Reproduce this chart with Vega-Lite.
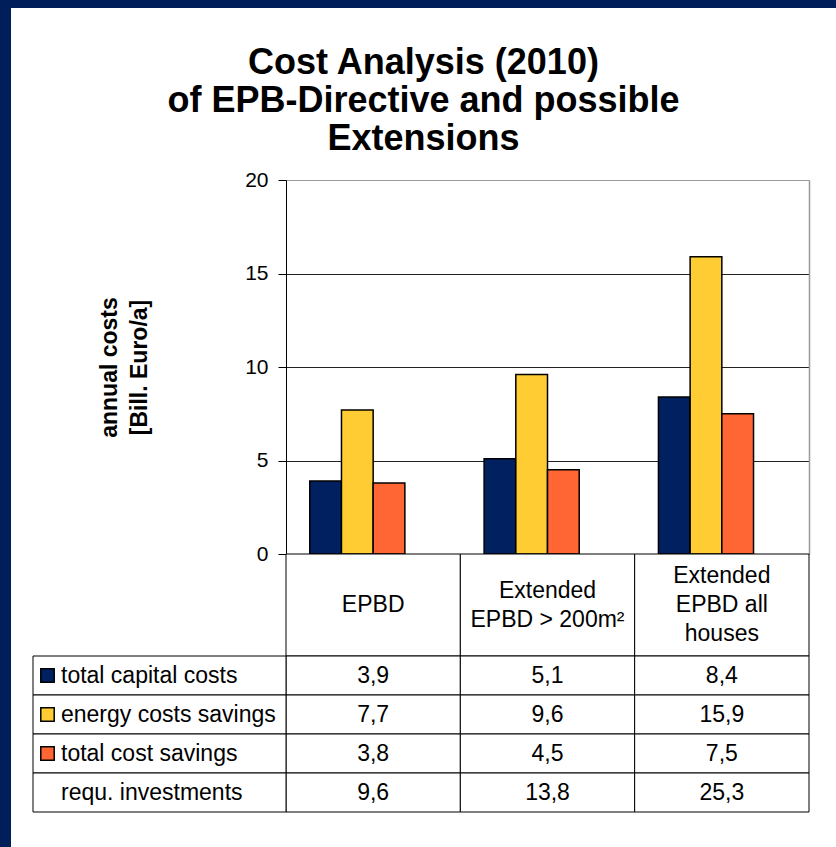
{
  "$schema": "https://vega.github.io/schema/vega-lite/v6.json",
  "width": 825,
  "height": 839,
  "autosize": {"type": "none"},
  "padding": {"left": 11, "top": 8, "right": 0, "bottom": 0},
  "background": "#001E5A",
  "view": {"fill": "white", "stroke": null},
  "config": {
    "locale": {"number": {"decimal": ",", "thousands": ".", "grouping": [3], "currency": ["", " €"]}},
    "font": "Liberation Sans"
  },
  "title": {
    "text": ["Cost Analysis (2010)", "of EPB-Directive and possible", "Extensions"],
    "font": "Liberation Sans",
    "fontSize": 36,
    "fontWeight": "bold",
    "lineHeight": 38,
    "color": "black",
    "frame": "group",
    "anchor": "middle",
    "orient": "top",
    "offset": -150,
    "dx": 0
  },
  "datasets": {
    "bars": [
      {"cat": "EPBD", "series": "total capital costs", "value": 3.9},
      {"cat": "EPBD", "series": "energy costs savings", "value": 7.7},
      {"cat": "EPBD", "series": "total cost savings", "value": 3.8},
      {"cat": "EPBD", "series": "requ. investments", "value": 9.6},
      {"cat": "Extended EPBD > 200m²", "series": "total capital costs", "value": 5.1},
      {"cat": "Extended EPBD > 200m²", "series": "energy costs savings", "value": 9.6},
      {"cat": "Extended EPBD > 200m²", "series": "total cost savings", "value": 4.5},
      {"cat": "Extended EPBD > 200m²", "series": "requ. investments", "value": 13.8},
      {"cat": "Extended EPBD all houses", "series": "total capital costs", "value": 8.4},
      {"cat": "Extended EPBD all houses", "series": "energy costs savings", "value": 15.9},
      {"cat": "Extended EPBD all houses", "series": "total cost savings", "value": 7.5},
      {"cat": "Extended EPBD all houses", "series": "requ. investments", "value": 25.3}
    ],
    "cats": [
      {"cat": "EPBD", "header": "EPBD"},
      {"cat": "Extended EPBD > 200m²", "header": "Extended\nEPBD > 200m²"},
      {"cat": "Extended EPBD all houses", "header": "Extended\nEPBD all\nhouses"}
    ]
  },
  "layer": [
    {
      "data": {"name": "bars"},
      "transform": [{"filter": "datum.series != 'requ. investments'"}],
      "mark": {"type": "bar", "stroke": "black", "strokeWidth": 1.5},
      "encoding": {
        "x": {
          "field": "cat", "type": "nominal", "sort": null,
          "scale": {"domain": ["EPBD", "Extended EPBD > 200m²", "Extended EPBD all houses"], "range": [275, 798], "paddingInner": 0, "paddingOuter": 0},
          "axis": null
        },
        "xOffset": {
          "field": "series", "type": "nominal",
          "scale": {"domain": ["total capital costs", "energy costs savings", "total cost savings", "requ. investments"], "paddingInner": 0, "paddingOuter": 0.75}
        },
        "y": {
          "field": "value", "type": "quantitative",
          "scale": {"domain": [0, 20], "range": [546, 172], "nice": false, "zero": true},
          "axis": {
            "orient": "left",
            "offset": -275,
            "values": [0, 5, 10, 15, 20],
            "title": ["annual costs", "[Bill. Euro/a]"],
            "titleFont": "Liberation Sans",
            "titleFontSize": 23,
            "titleFontWeight": "bold",
            "titleLineHeight": 30,
            "titleColor": "black",
            "titlePadding": 93,
            "labelFont": "Liberation Sans",
            "labelFontSize": 21,
            "labelColor": "black",
            "labelPadding": 10,
            "tickSize": 8,
            "tickColor": "black",
            "domainColor": "black",
            "grid": true,
            "gridColor": {"condition": {"test": "datum.value == 20", "value": "#999999"}, "value": "#222222"},
            "gridWidth": 1
          }
        },
        "color": {
          "field": "series", "type": "nominal",
          "scale": {"domain": ["total capital costs", "energy costs savings", "total cost savings"], "range": ["#002060", "#FFCC33", "#FF6633"]},
          "legend": null
        }
      }
    },
    {
      "data": {"name": "bars"},
      "transform": [{"filter": "datum.series != 'requ. investments'"}],
      "mark": {"type": "text", "text": ""},
      "encoding": {
        "y": {
          "field": "value", "type": "quantitative",
          "scale": {"domain": [0, 20], "range": [546, 172], "nice": false},
          "axis": {"orient": "right", "offset": -27, "labels": false, "ticks": false, "grid": false, "title": null, "domainColor": "#999999", "domainWidth": 1.5}
        }
      }
    },
    {
      "data": {"name": "cats"},
      "mark": {"type": "rect", "fill": "white", "stroke": "black", "strokeWidth": 1},
      "encoding": {
        "x": {"field": "cat", "type": "nominal", "sort": null, "scale": {"domain": ["EPBD", "Extended EPBD > 200m²", "Extended EPBD all houses"], "range": [275, 798], "paddingInner": 0, "paddingOuter": 0}, "axis": null},
        "y": {"datum": "header", "type": "nominal", "scale": {"domain": ["header"], "range": [546, 648], "paddingInner": 0, "paddingOuter": 0}, "axis": null}
      }
    },
    {
      "data": {"name": "cats"},
      "mark": {"type": "text", "lineBreak": "\n", "fontSize": 23, "lineHeight": 29, "baseline": "middle", "align": "center", "color": "black", "dy": {"expr": "-14.5 * (length(split(datum.header, '\\n')) - 1)"}},
      "encoding": {
        "x": {"field": "cat", "type": "nominal", "sort": null, "scale": {"domain": ["EPBD", "Extended EPBD > 200m²", "Extended EPBD all houses"], "range": [275, 798], "paddingInner": 0, "paddingOuter": 0}, "axis": null},
        "y": {"datum": "header", "type": "nominal", "scale": {"domain": ["header"], "range": [546, 648], "paddingInner": 0, "paddingOuter": 0}, "axis": null},
        "text": {"field": "header"}
      }
    },
    {
      "data": {"name": "bars"},
      "mark": {"type": "rect", "fill": "white", "stroke": "black", "strokeWidth": 1},
      "encoding": {
        "x": {"field": "cat", "type": "nominal", "sort": null, "scale": {"domain": ["EPBD", "Extended EPBD > 200m²", "Extended EPBD all houses"], "range": [275, 798], "paddingInner": 0, "paddingOuter": 0}, "axis": null},
        "y": {"field": "series", "type": "nominal", "sort": null, "scale": {"domain": ["total capital costs", "energy costs savings", "total cost savings", "requ. investments"], "range": [648, 804], "paddingInner": 0, "paddingOuter": 0}, "axis": null}
      }
    },
    {
      "data": {"name": "bars"},
      "mark": {"type": "text", "fontSize": 23, "baseline": "middle", "align": "center", "color": "black"},
      "encoding": {
        "x": {"field": "cat", "type": "nominal", "sort": null, "scale": {"domain": ["EPBD", "Extended EPBD > 200m²", "Extended EPBD all houses"], "range": [275, 798], "paddingInner": 0, "paddingOuter": 0}, "axis": null},
        "y": {"field": "series", "type": "nominal", "sort": null, "scale": {"domain": ["total capital costs", "energy costs savings", "total cost savings", "requ. investments"], "range": [648, 804], "paddingInner": 0, "paddingOuter": 0}, "axis": null},
        "text": {"field": "value", "type": "quantitative", "format": ".1f"}
      }
    },
    {
      "data": {"name": "bars"},
      "transform": [{"filter": "datum.cat == 'EPBD'"}],
      "mark": {"type": "rect", "fill": "white", "stroke": "black", "strokeWidth": 1},
      "encoding": {
        "x": {"datum": "label", "type": "nominal", "scale": {"domain": ["label"], "range": [22, 275], "paddingInner": 0, "paddingOuter": 0}, "axis": null},
        "y": {"field": "series", "type": "nominal", "sort": null, "scale": {"domain": ["total capital costs", "energy costs savings", "total cost savings", "requ. investments"], "range": [648, 804], "paddingInner": 0, "paddingOuter": 0}, "axis": null}
      }
    },
    {
      "data": {"name": "bars"},
      "transform": [{"filter": "datum.cat == 'EPBD'"}],
      "mark": {"type": "text", "fontSize": 23, "baseline": "middle", "align": "left", "dx": -98.5, "color": "black"},
      "encoding": {
        "x": {"datum": "label", "type": "nominal", "scale": {"domain": ["label"], "range": [22, 275], "paddingInner": 0, "paddingOuter": 0}, "axis": null},
        "y": {"field": "series", "type": "nominal", "sort": null, "scale": {"domain": ["total capital costs", "energy costs savings", "total cost savings", "requ. investments"], "range": [648, 804], "paddingInner": 0, "paddingOuter": 0}, "axis": null},
        "text": {"field": "series"}
      }
    },
    {
      "data": {"name": "bars"},
      "transform": [{"filter": "datum.cat == 'EPBD' && datum.series != 'requ. investments'"}],
      "mark": {"type": "square", "size": 180, "opacity": 1, "stroke": "black", "strokeWidth": 1.5},
      "encoding": {
        "x": {"datum": "label", "type": "nominal", "scale": {"domain": ["label"], "range": [22, 275], "paddingInner": 0, "paddingOuter": 0}, "axis": null},
        "xOffset": {"value": -112},
        "y": {"field": "series", "type": "nominal", "sort": null, "scale": {"domain": ["total capital costs", "energy costs savings", "total cost savings", "requ. investments"], "range": [648, 804], "paddingInner": 0, "paddingOuter": 0}, "axis": null},
        "fill": {
          "field": "series", "type": "nominal",
          "scale": {"domain": ["total capital costs", "energy costs savings", "total cost savings"], "range": ["#002060", "#FFCC33", "#FF6633"]},
          "legend": null
        }
      }
    }
  ],
  "resolve": {"scale": {"x": "independent", "y": "independent"}}
}
